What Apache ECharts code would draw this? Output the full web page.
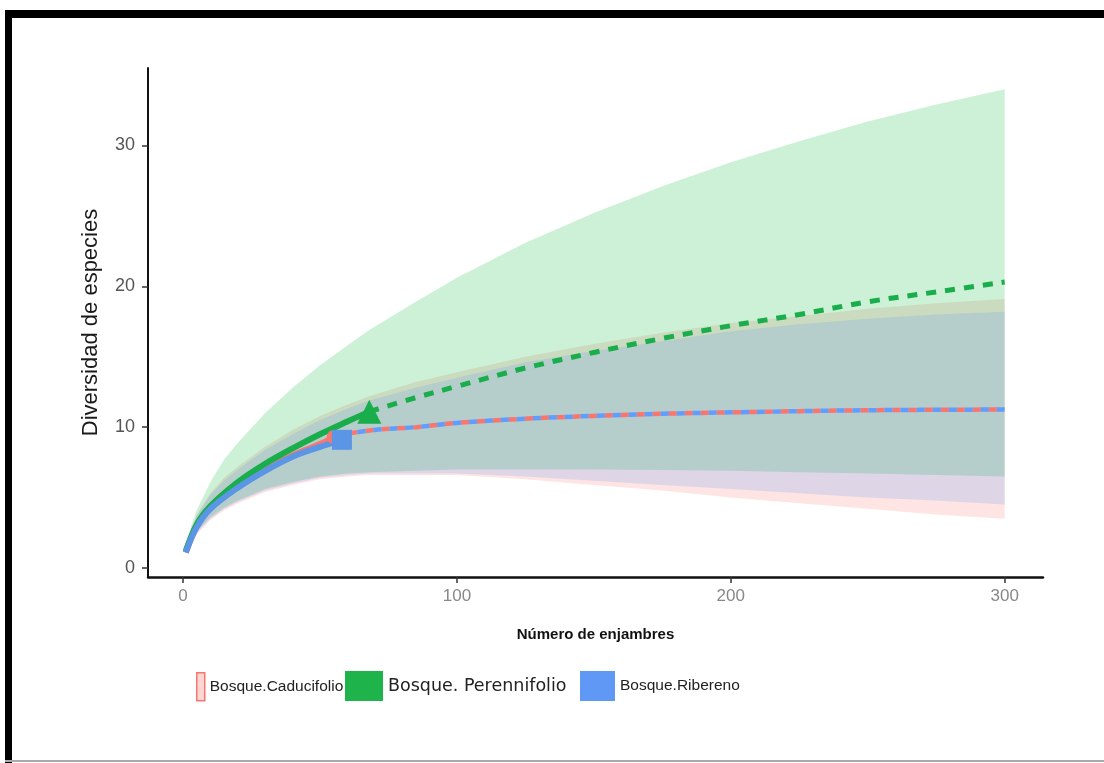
<!DOCTYPE html>
<html><head><meta charset="utf-8">
<script src="https://cdn.jsdelivr.net/npm/echarts@6/dist/echarts.min.js"></script>
<style>html,body{margin:0;padding:0;background:#fff}#c{width:1104px;height:763px}</style>
</head><body><div id="c"></div>
<script>
// ---- data ----
const seriesNames = ['Bosque.Caducifolio', 'Bosque. Perennifolio', 'Bosque.Ribereno'];
const xTicks = [0, 100, 200, 300];
const yTicks = [0, 10, 20, 30];

// confidence band x positions (shared)
const bandX = [1, 3, 5, 10, 15, 20, 30, 40, 50, 60, 68, 85, 100, 125, 150, 175, 200, 225, 250, 275, 300];
const cadLower = [1.1, 1.9, 2.4, 3.4, 4.1, 4.6, 5.4, 5.9, 6.3, 6.5, 6.6, 6.6, 6.6, 6.3, 5.9, 5.5, 5.0, 4.6, 4.2, 3.8, 3.5];
const cadUpper = [1.2, 2.8, 3.8, 5.3, 6.4, 7.2, 8.6, 9.8, 10.8, 11.6, 12.2, 13.2, 13.9, 15.0, 15.9, 16.7, 17.4, 17.9, 18.4, 18.8, 19.1];
const perLower = [1.2, 2.0, 2.6, 3.6, 4.3, 4.8, 5.6, 6.1, 6.5, 6.7, 6.8, 6.9, 7.0, 7.0, 7.0, 6.95, 6.9, 6.8, 6.7, 6.6, 6.5];
const perUpper = [1.2, 3.0, 4.1, 6.1, 7.7, 8.9, 11.0, 12.8, 14.4, 15.8, 16.9, 18.9, 20.6, 23.1, 25.2, 27.1, 28.8, 30.3, 31.7, 32.9, 34.0];
const ribLower = [1.1, 1.9, 2.5, 3.5, 4.2, 4.7, 5.5, 6.0, 6.4, 6.6, 6.7, 6.7, 6.7, 6.5, 6.2, 5.9, 5.6, 5.3, 5.0, 4.8, 4.5];
const ribUpper = [1.2, 2.7, 3.7, 5.2, 6.2, 7.0, 8.4, 9.5, 10.5, 11.3, 11.9, 12.8, 13.5, 14.6, 15.4, 16.1, 16.8, 17.3, 17.7, 18.0, 18.2];

// observed (rarefaction) curves
const cadObsX = [1, 5, 10, 20, 30, 40, 50, 55];
const cadObsY = [1.1, 3.0, 4.3, 5.8, 7.0, 8.0, 8.8, 9.3];
const perObsX = [1, 5, 10, 20, 30, 40, 50, 60, 68];
const perObsY = [1.2, 3.1, 4.4, 6.1, 7.4, 8.5, 9.5, 10.4, 11.1];
const ribObsX = [1, 5, 10, 20, 30, 40, 50, 58];
const ribObsY = [1.1, 2.9, 4.2, 5.7, 6.9, 7.9, 8.6, 9.1];

// extrapolated curves
const cadExtX = [55, 70, 85, 100, 125, 150, 175, 200, 250, 300];
const cadExtY = [9.4, 9.8, 10.0, 10.3, 10.6, 10.8, 10.95, 11.05, 11.2, 11.25];
const perExtX = [68, 85, 100, 125, 150, 175, 200, 225, 250, 275, 300];
const perExtY = [11.1, 12.1, 12.9, 14.2, 15.3, 16.3, 17.2, 18.0, 18.9, 19.6, 20.3];
const ribExtX = [55, 70, 85, 100, 125, 150, 175, 200, 250, 300];
const ribExtY = [9.4, 9.8, 10.0, 10.3, 10.6, 10.8, 10.95, 11.05, 11.2, 11.25];

// observed end points (markers)
const cadPoint = [55, 9.3];
const perPoint = [68, 11.1];
const ribPoint = [58, 9.1];

// ---- chart ----
const RED = '#F8766D', GREEN = '#00BA38', BLUE = '#619CFF';
const GLINE = '#1aad4b', BLINE = '#5b95e6';
const zip = (xs, ys) => xs.map((x, i) => [x, ys[i]]);

function band(name, xs, lo, hi, color) {
  return {
    type: 'custom', name: name, silent: true, z: 1, data: [[xs[0], lo[0]]],
    renderItem: function (params, api) {
      const pts = [];
      for (let i = 0; i < xs.length; i++) pts.push(api.coord([xs[i], hi[i]]));
      for (let i = xs.length - 1; i >= 0; i--) pts.push(api.coord([xs[i], lo[i]]));
      return { type: 'polygon', shape: { points: pts }, style: { fill: color, opacity: 0.2 } };
    }
  };
}
function line(name, xs, ys, color, width, dash, offset, z) {
  return {
    type: 'line', name: name, data: zip(xs, ys), smooth: 0.35, showSymbol: false, silent: true, z: z,
    lineStyle: { color: color, width: width, type: dash || 'solid', dashOffset: offset || 0, cap: 'butt' },
    itemStyle: { color: color }
  };
}
function marker(name, pt, symbol, size, color, z) {
  return { type: 'scatter', name: name, data: [pt], symbol: symbol, symbolSize: size, z: z, silent: true,
    itemStyle: { color: color, opacity: 1 } };
}

const chart = echarts.init(document.getElementById('c'), null, { renderer: 'canvas' });
const legendText = { fontFamily: 'Liberation Sans, Arial, sans-serif', fontSize: 15.5, color: '#222' };
chart.setOption({
  animation: false,
  backgroundColor: '#fff',
  grid: { left: 148, right: 61, top: 68, bottom: 186 },
  xAxis: {
    type: 'value', min: -12.8, max: 314,
    name: 'Número de enjambres', nameLocation: 'middle', nameGap: 50,
    nameTextStyle: { fontFamily: 'Liberation Sans, Arial, sans-serif', fontWeight: 'bold', fontSize: 15, color: '#111' },
    axisLine: { show: true, onZero: false, lineStyle: { color: '#111', width: 2.5 } },
    axisTick: { show: true, length: 6, customValues: xTicks, lineStyle: { color: '#333', width: 1.5 } },
    axisLabel: { customValues: xTicks, margin: 11, fontFamily: 'Liberation Sans, Arial, sans-serif', fontSize: 17, color: '#888' },
    splitLine: { show: false }
  },
  yAxis: {
    type: 'value', min: -0.64, max: 35.5,
    name: 'Diversidad de especies', nameLocation: 'middle', nameGap: 46, nameRotate: 90,
    nameTextStyle: { fontFamily: 'Liberation Sans, Arial, sans-serif', fontSize: 22, color: '#1a1a1a' },
    axisLine: { show: true, onZero: false, lineStyle: { color: '#111', width: 2 } },
    axisTick: { show: true, length: 6, customValues: yTicks, lineStyle: { color: '#333', width: 1.5 } },
    axisLabel: { customValues: yTicks, margin: 13, fontFamily: 'Liberation Sans, Arial, sans-serif', fontSize: 18, color: '#555' },
    splitLine: { show: false }
  },
  legend: [
    { left: 196, top: 672, padding: 0, itemWidth: 8, itemHeight: 28, textStyle: legendText, selectedMode: false,
      data: [{ name: seriesNames[0], icon: 'rect', itemStyle: { color: 'rgba(248,118,109,0.3)', borderColor: RED, borderWidth: 1.5 } }] },
    { left: 345, top: 671, padding: 0, itemWidth: 38, itemHeight: 30, selectedMode: false,
      textStyle: { fontFamily: 'DejaVu Sans, sans-serif', fontSize: 17.5, color: '#222' },
      data: [{ name: seriesNames[1], icon: 'rect', itemStyle: { color: '#1fb34c', borderColor: '#1fb34c' } }] },
    { left: 580, top: 671, padding: 0, itemWidth: 35, itemHeight: 30, textStyle: legendText, selectedMode: false,
      data: [{ name: seriesNames[2], icon: 'rect', itemStyle: { color: '#5f98f5', borderColor: '#5f98f5' } }] }
  ],
  graphic: [
    { type: 'rect', shape: { x: 5, y: 10, width: 1099, height: 8 }, style: { fill: '#000' }, z: 100 },
    { type: 'rect', shape: { x: 5, y: 10, width: 7, height: 753 }, style: { fill: '#000' }, z: 100 },
    { type: 'rect', shape: { x: 5, y: 760, width: 1099, height: 2 }, style: { fill: '#aaa' }, z: 100 }
  ],
  series: [
    band(seriesNames[0], bandX, cadLower, cadUpper, RED),
    band(seriesNames[1], bandX, perLower, perUpper, GREEN),
    band(seriesNames[2], bandX, ribLower, ribUpper, BLUE),
    line(seriesNames[0], cadExtX, cadExtY, RED, 4.5, [8, 8], 0, 3),
    line(seriesNames[2], ribExtX, ribExtY, BLUE, 4.5, [8, 8], 8, 4),
    line(seriesNames[1], perExtX, perExtY, GLINE, 5, [10, 9], 0, 5),
    line(seriesNames[0], cadObsX, cadObsY, RED, 6, null, 0, 6),
    line(seriesNames[1], perObsX, perObsY, GLINE, 6, null, 0, 7),
    line(seriesNames[2], ribObsX, ribObsY, BLINE, 6, null, 0, 8),
    marker(seriesNames[0], cadPoint, 'circle', 14, RED, 9),
    marker(seriesNames[1], perPoint, 'triangle', 24, GLINE, 10),
    marker(seriesNames[2], ribPoint, 'rect', 20, BLINE, 11)
  ]
});
</script></body></html>
